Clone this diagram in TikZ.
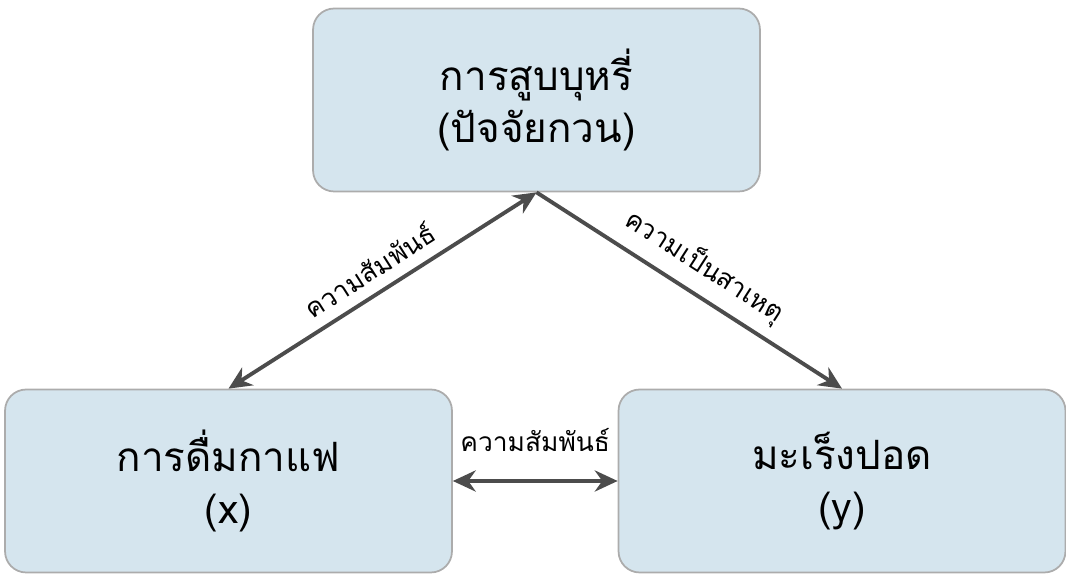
\documentclass[tikz,border=0pt]{standalone}
\usepackage{fontspec}
\setmainfont[Script=Thai]{Loma}
\usetikzlibrary{arrows.meta,positioning}
\definecolor{boxfill}{HTML}{D5E5EE}

\begin{document}
\begin{tikzpicture}[x=0.02cm,y=-0.02cm,
	box/.style={draw=gray!65,fill=boxfill,rounded corners=12pt,line width=1pt,
		minimum width=8.94cm,minimum height=3.66cm,align=center,
		font=\fontsize{23}{30}\selectfont},
	link/.style={draw=black!70,line width=2.2pt,-{Stealth[length=13pt,width=12pt]}},
	both/.style={link,{Stealth[length=13pt,width=12pt]}-{Stealth[length=13pt,width=12pt]}},
	lbl/.style={font=\fontsize{15}{17}\selectfont,sloped}]
	\useasboundingbox (0,0) rectangle (1066,580);

	% Kasten
	\node[box] (smoke) at (536.5,100) {การสูบบุหรี่\\(ปัจจัยกวน)};
	\node[box] (coffee) at (228.5,481) {การดื่มกาแฟ\\(x)};
	\node[box] (cancer) at (842,481) {มะเร็งปอด\\(y)};

	% Pfeile
	\draw[both] (coffee.north) -- node[lbl,above=3pt] {ความสัมพันธ์} (smoke.south);
	\draw[link] (smoke.south) -- node[lbl,above=3pt] {ความเป็นสาเหตุ} (cancer.north);
	\draw[both] (coffee.east) -- node[lbl,above=12pt] {ความสัมพันธ์} (cancer.west);
\end{tikzpicture}
\end{document}
